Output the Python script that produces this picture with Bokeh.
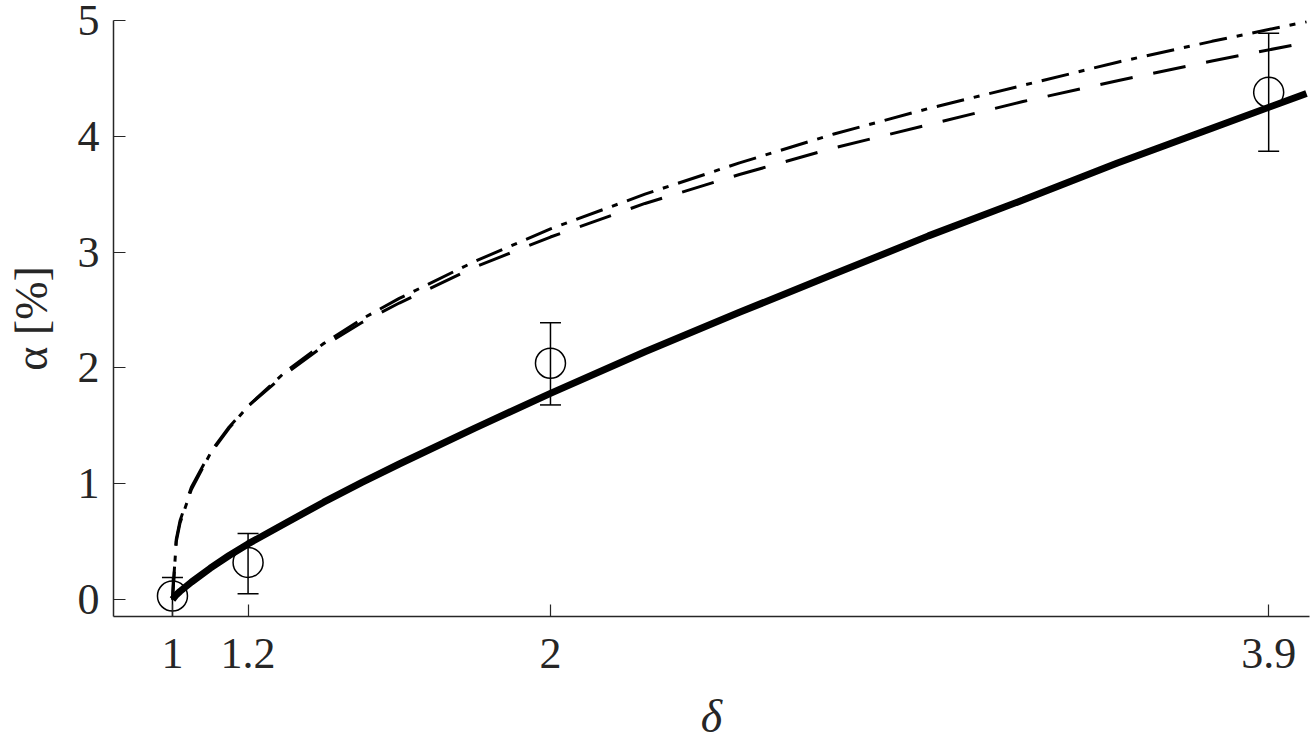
from bokeh.plotting import figure
from bokeh.models import Range1d, FixedTicker, ColumnDataSource, Whisker, TeeHead
from bokeh.embed import file_html
from bokeh.resources import INLINE

# Curves
delta_curve = [1, 1.01, 1.02, 1.05, 1.1, 1.15, 1.2, 1.3, 1.4, 1.5, 1.6, 1.8, 2.0,
               2.25, 2.5, 2.75, 3.0, 3.25, 3.5, 3.75, 4.0]
alpha_solid = [0, 0.04, 0.07, 0.15, 0.27, 0.38, 0.48, 0.66, 0.84, 1.01, 1.17, 1.48, 1.78,
               2.14, 2.48, 2.81, 3.14, 3.45, 3.77, 4.07, 4.37]
alpha_dashed = [0, 0.52, 0.68, 0.97, 1.27, 1.49, 1.67, 1.95, 2.19, 2.39, 2.56, 2.87, 3.13,
                3.42, 3.67, 3.90, 4.10, 4.30, 4.48, 4.65, 4.81]
alpha_dashdot = [0, 0.50, 0.66, 0.95, 1.26, 1.48, 1.67, 1.97, 2.21, 2.42, 2.60, 2.92, 3.20,
                 3.50, 3.77, 4.02, 4.24, 4.44, 4.64, 4.82, 4.99]

# Measured points with error bars
delta_pts = [1, 1.2, 2, 3.9]
alpha_pts = [0.03, 0.32, 2.04, 4.38]
alpha_lo = [-0.15, 0.05, 1.68, 3.87]
alpha_hi = [0.19, 0.57, 2.39, 4.89]

x_ticks = [1, 1.2, 2, 3.9]
x_tick_labels = ["1", "1.2", "2", "3.9"]
y_ticks = [0, 1, 2, 3, 4, 5]
y_tick_labels = ["0", "1", "2", "3", "4", "5"]

FONT = "Liberation Serif"
AX = "#262626"

p = figure(width=1313, height=744, output_backend="svg", toolbar_location=None,
           x_range=Range1d(0.844, 4.008), y_range=Range1d(-0.147, 5.0),
           min_border_left=113, min_border_right=4, min_border_top=20, min_border_bottom=122)
p.outline_line_color = None
p.xgrid.visible = False
p.ygrid.visible = False
p.background_fill_color = "white"
p.border_fill_color = "white"

# error bars
src = ColumnDataSource(dict(x=delta_pts, y=alpha_pts, lo=alpha_lo, hi=alpha_hi))
w = Whisker(base="x", lower="lo", upper="hi", source=src, dimension="height",
            line_color="black", line_width=1.5,
            upper_head=TeeHead(size=21, line_color="black", line_width=1.5),
            lower_head=TeeHead(size=21, line_color="black", line_width=1.5))
p.add_layout(w)

p.line(delta_curve, alpha_dashed, line_color="black", line_width=3, line_dash="33 21")
p.line(delta_curve, alpha_dashdot, line_color="black", line_width=3, line_dash="28 10 6 10")
p.line(delta_curve, alpha_solid, line_color="black", line_width=7)

p.scatter(delta_pts, alpha_pts, marker="circle", size=30, fill_color=None,
          line_color="black", line_width=1.5)

for ax in (p.xaxis[0], p.yaxis[0]):
    ax.axis_line_color = AX
    ax.axis_line_width = 1.5
    ax.major_tick_line_color = AX
    ax.major_tick_line_width = 1.2
    ax.major_tick_in = 12
    ax.major_tick_out = 0
    ax.minor_tick_line_color = None
    ax.major_label_text_font = FONT
    ax.major_label_text_font_size = "44px"
    ax.major_label_text_color = AX
    ax.axis_label_text_font = FONT
    ax.axis_label_text_font_size = "46px"
    ax.axis_label_text_color = AX

p.xaxis[0].ticker = FixedTicker(ticks=x_ticks)
p.xaxis[0].major_label_overrides = {t: l for t, l in zip(x_ticks, x_tick_labels)}
p.yaxis[0].ticker = FixedTicker(ticks=y_ticks)
p.yaxis[0].major_label_overrides = {t: l for t, l in zip(y_ticks, y_tick_labels)}
p.xaxis[0].major_label_standoff = 22
p.yaxis[0].major_label_standoff = 14
p.xaxis[0].axis_label = "δ"
p.xaxis[0].axis_label_text_font_style = "italic"
p.xaxis[0].axis_label_standoff = 20
p.yaxis[0].axis_label = "α [%]"
p.yaxis[0].axis_label_text_font_style = "normal"
p.yaxis[0].axis_label_standoff = 18

open("out.html", "w").write(file_html(p, INLINE))
